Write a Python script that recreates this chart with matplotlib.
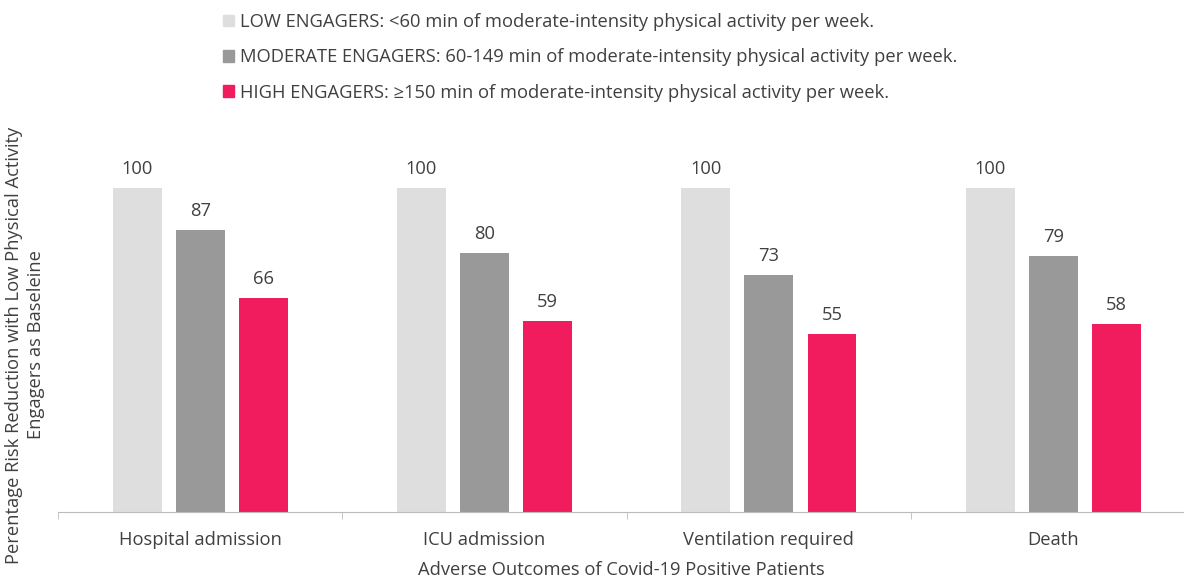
import numpy as np
import matplotlib.pyplot as plt
from matplotlib.patches import Patch

plt.rcParams['font.family'] = ['Open Sans', 'DejaVu Sans']

outcomes = ['Hospital admission', 'ICU admission', 'Ventilation required', 'Death']
low = [100, 100, 100, 100]
moderate = [87, 80, 73, 79]
high = [66, 59, 55, 58]
group_labels = [
    'LOW ENGAGERS: <60 min of moderate-intensity physical activity per week.',
    'MODERATE ENGAGERS: 60-149 min of moderate-intensity physical activity per week.',
    'HIGH ENGAGERS: \u2265150 min of moderate-intensity physical activity per week.',
]
colors = ['#dedede', '#999999', '#f01c5e']
text_col = '#404040'
fs = 13.2

fig = plt.figure(figsize=(11.84, 5.77), dpi=100)
ax = fig.add_axes([58 / 1184, 65 / 577, 1126 / 1184, 373 / 577])

x = np.arange(len(outcomes))
width = 0.172
offset = 0.222
for i, (vals, c) in enumerate(zip([low, moderate, high], colors)):
    bars = ax.bar(x + (i - 1) * offset, vals, width, color=c, label=group_labels[i])
    for b, v in zip(bars, vals):
        ax.text(b.get_x() + b.get_width() / 2, v + 3, str(v), ha='center', va='bottom',
                fontsize=fs, color=text_col)

ax.set_xlim(-0.5, 3.46)
ax.set_ylim(0, 115)
ax.set_xticks(x)
ax.set_xticklabels(outcomes, fontsize=fs, color=text_col)
ax.set_xticks(np.arange(-0.5, 3.0, 1.0), minor=True)
ax.tick_params(axis='x', which='major', length=0, pad=14)
ax.tick_params(axis='x', which='minor', length=5, color='#bbbbbb')
ax.set_yticks([])
for s in ['top', 'right', 'left']:
    ax.spines[s].set_visible(False)
ax.spines['bottom'].set_color('#bbbbbb')

ax.set_xlabel('Adverse Outcomes of Covid-19 Positive Patients', fontsize=fs, color=text_col, labelpad=8)
fig.text(25 / 1184, 1 - 345 / 577,
         'Perentage Risk Reduction with Low Physical Activity\nEngagers as Baseleine',
         rotation=90, ha='center', va='center', fontsize=fs, color=text_col, linespacing=1.25)

handles = [Patch(color=c) for c in colors]
fig.legend(handles, group_labels, loc='upper left', bbox_to_anchor=(210 / 1184, 1.0),
           frameon=False, fontsize=fs, handlelength=0.6, handleheight=0.6, handletextpad=0.35,
           labelspacing=0.95, labelcolor=text_col, borderaxespad=0.3)

fig.savefig('out.png', dpi=100)
